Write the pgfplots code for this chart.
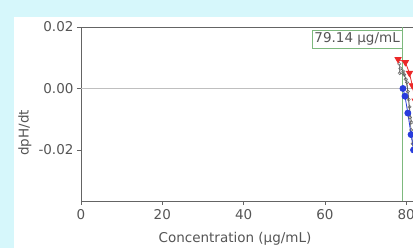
\documentclass[border=0pt]{standalone}
\usepackage{pgfplots}
\pgfplotsset{compat=1.18}
\usepackage{fontspec}
\setmainfont{DejaVu Sans}
\definecolor{bgc}{RGB}{214,247,251}
\definecolor{txt}{RGB}{85,85,85}
\definecolor{axc}{RGB}{100,100,100}
\definecolor{grn}{RGB}{125,185,125}
\definecolor{redm}{RGB}{235,40,40}
\definecolor{bluem}{RGB}{40,60,220}
\begin{document}
\begin{tikzpicture}[x=1pt,y=1pt]
\useasboundingbox (0,0) rectangle (413,248);
\fill[bgc] (0,0) rectangle (413,248);
\fill[white] (14,0) rectangle (413,231);
\begin{scope}
\clip (0,0) rectangle (413,248);
\begin{axis}[
  at={(81pt,47pt)}, anchor=south west, scale only axis,
  width=406.5pt, height=174pt,
  xmin=0, xmax=100, ymin=-0.0366, ymax=0.02,
  scaled y ticks=false, scaled x ticks=false,
  axis line style={axc, line width=0.8pt},
  xtick={0,20,40,60,80,100}, xticklabels={0,20,40,60,80,100},
  ytick={-0.02,0,0.02}, yticklabels={-0.02,0.00,0.02},
  tick align=outside, tick pos=left, major tick length=4pt,
  tick style={axc, line width=0.8pt},
  ticklabel style={font=\fontsize{13.5}{15}\selectfont, text=txt},
  xticklabel style={yshift=-1pt},
  clip=true,
]
\addplot[black!25, line width=0.9pt] coordinates {(0,0) (100,0)};
\addplot[grn, line width=0.9pt] coordinates {(79.14,-0.0366) (79.14,0.02)};
% gray open circles
\addplot[black!70, line width=0.5pt, mark=o, mark size=1.7pt, mark options={black!60}]
  coordinates {(78.3,0.0080) (78.4,0.0050) (79.5,0.0045) (80.2,0.0020) (80.6,-0.0036) (80.9,-0.0094) (81.2,-0.0135) (81.6,-0.0180)};
\addplot[black!70, line width=0.5pt, mark=o, mark size=1.7pt, mark options={black!60}]
  coordinates {(78.6,0.0065) (79.3,0.0055) (79.9,0.0030) (80.4,-0.0010) (80.8,-0.0060) (81.3,-0.0110)};
% red triangles
\addplot[redm, line width=0.8pt, mark=triangle*, mark size=3.5pt, mark options={rotate=180, fill=redm}]
  coordinates {(78.0,0.0095) (79.8,0.0085) (80.8,0.0050) (81.5,0.0010) (82.2,-0.0040)};
% blue circles
\addplot[bluem, line width=0.8pt, mark=*, mark size=3pt, mark options={fill=bluem}]
  coordinates {(79.2,0.0000) (79.7,-0.0025) (80.4,-0.0080) (81.2,-0.0150) (81.8,-0.0200)};
\node[draw=grn, fill=white, anchor=north east, inner sep=2.5pt, line width=0.8pt,
      font=\fontsize{13.5}{15}\selectfont, text=txt]
  at (axis cs:79.14,0.0191) {79.14 μg/mL};
\end{axis}
\end{scope}
\node[font=\fontsize{13.5}{15}\selectfont, text=txt] at (235,9) {Concentration (μg/mL)};
\node[font=\fontsize{13.5}{15}\selectfont, text=txt, rotate=90] at (25,115) {dpH/dt};
\end{tikzpicture}
\end{document}
